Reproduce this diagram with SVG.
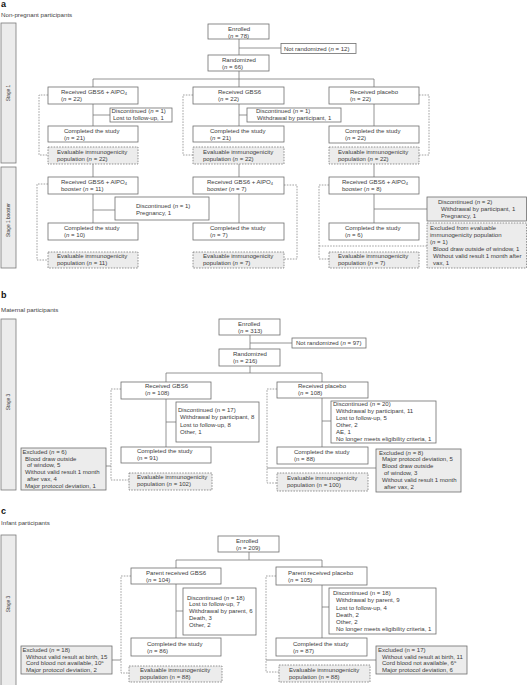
<svg xmlns="http://www.w3.org/2000/svg" width="527" height="685" viewBox="0 0 527 685">
<style>
.b{fill:#fff;stroke:#6e6e6e;stroke-width:0.8}
.g{fill:#ececec;stroke:#6e6e6e;stroke-width:0.8}
.d{fill:#ececec;stroke:#7a7a7a;stroke-width:0.8;stroke-dasharray:1.6,1.2}
.bar{fill:#ececec;stroke:#7a7a7a;stroke-width:0.8}
.c{fill:none;stroke:#7a7a7a;stroke-width:0.8}
.dc{fill:none;stroke:#8a8a8a;stroke-width:0.8;stroke-dasharray:1.6,1.2}
text{font-family:"Liberation Sans",Arial,sans-serif;font-size:6.05px;fill:#3c3c3c}
.h{font-weight:bold;font-size:9px;fill:#111}
.t{font-size:6.2px;fill:#444}
.s{font-size:4.8px}
.i{font-style:italic}
.sub{font-size:4px}
.m{text-anchor:middle}
</style>
<rect width="527" height="685" fill="#fff"/>

<!-- ============ Section a ============ -->
<text class="h" x="1" y="7">a</text>
<text class="t" x="1" y="17">Non-pregnant participants</text>
<g id="bar-a1"><rect class="bar" x="1" y="23" width="15" height="140"/><text class="m s" transform="translate(10.2,93) rotate(-90)">Stage 1</text></g>
<g id="bar-a2"><rect class="bar" x="1" y="167" width="15" height="101"/><text class="m s" transform="translate(10.2,220) rotate(-90)">Stage 1 booster</text></g>

<g id="connectors-a">
<path class="c" d="M239,39V55M239,48H281M239,71V79M93,79H374M93,79V87M239,79V87M374,79V87"/>
<path class="c" d="M93,104V126M93,115H110M239,104V126M239,115H247M374,104V126"/>
<path class="c" d="M93,164V177M239,164V177M374,164V177"/>
<path class="c" d="M93,194V223M93,210H115M239,194V223M374,194V223M374,209H427"/>
<path class="dc" d="M48,95H39V155H48M193,95H183V155H193M419,95H429V155H419"/>
<path class="dc" d="M48,184H37V260H48M284,185H297V259H284M329,185H319V259H329M319,246H427"/>
</g>

<g id="a-enrolled"><rect class="b" x="208" y="24" width="61" height="15"/><text x="228" y="30.5">Enrolled</text><text x="228" y="37.5">(<tspan class="i">n</tspan> = 78)</text></g>
<g id="a-notrand"><rect class="b" x="281" y="43.5" width="75" height="10"/><text x="284" y="50.7">Not randomized (<tspan class="i">n</tspan> = 12)</text></g>
<g id="a-rand"><rect class="b" x="208" y="55" width="61" height="16"/><text x="222" y="61.5">Randomized</text><text x="222" y="68.5">(<tspan class="i">n</tspan> = 66)</text></g>

<g id="a-rec1"><rect class="b" x="48" y="87" width="90" height="17"/><text x="61" y="93.5">Received GBS6 + AlPO<tspan class="sub" dy="1">4</tspan></text><text x="61" y="100.5">(<tspan class="i">n</tspan> = 22)</text></g>
<g id="a-disc1"><rect class="b" x="110" y="108" width="62" height="14"/><text x="111.5" y="112.8">Discontinued (<tspan class="i">n</tspan> = 1)</text><text x="113" y="119.6">Lost to follow-up, 1</text></g>
<g id="a-comp1"><rect class="b" x="48" y="126" width="90" height="16"/><text x="64" y="132.5">Completed the study</text><text x="64" y="139.5">(<tspan class="i">n</tspan> = 21)</text></g>
<g id="a-eval1"><rect class="d" x="48" y="147" width="90" height="17"/><text x="57" y="153.8">Evaluable immunogenicity</text><text x="57" y="160.8">population (<tspan class="i">n</tspan> = 22)</text></g>

<g id="a-rec2"><rect class="b" x="193" y="87" width="91" height="17"/><text x="218" y="93.5">Received GBS6</text><text x="218" y="100.5">(<tspan class="i">n</tspan> = 22)</text></g>
<g id="a-disc2"><rect class="b" x="247" y="108" width="94" height="14"/><text x="256" y="112.8">Discontinued (<tspan class="i">n</tspan> = 1)</text><text x="257" y="119.6">Withdrawal by participant, 1</text></g>
<g id="a-comp2"><rect class="b" x="193" y="126" width="91" height="16"/><text x="210" y="132.5">Completed the study</text><text x="210" y="139.5">(<tspan class="i">n</tspan> = 21)</text></g>
<g id="a-eval2"><rect class="d" x="193" y="147" width="91" height="17"/><text x="203" y="153.8">Evaluable immunogenicity</text><text x="203" y="160.8">population (<tspan class="i">n</tspan> = 22)</text></g>

<g id="a-rec3"><rect class="b" x="329" y="87" width="90" height="17"/><text x="350" y="93.5">Received placebo</text><text x="350" y="100.5">(n = 22)</text></g>
<g id="a-comp3"><rect class="b" x="329" y="126" width="90" height="17"/><text x="345" y="132.5">Completed the study</text><text x="345" y="139.5">(<tspan class="i">n</tspan> = 22)</text></g>
<g id="a-eval3"><rect class="d" x="329" y="147" width="90" height="17"/><text x="338" y="153.8">Evaluable immunogenicity</text><text x="338" y="160.8">population (<tspan class="i">n</tspan> = 22)</text></g>

<g id="a-boost1"><rect class="b" x="48" y="177" width="90" height="17"/><text x="61" y="183.5">Received GBS6 + AlPO<tspan class="sub" dy="1">4</tspan></text><text x="61" y="190.5">booster (<tspan class="i">n</tspan> = 11)</text></g>
<g id="a-bdisc1"><rect class="b" x="115" y="197" width="94" height="23"/><text x="136" y="207.5">Discontinued (<tspan class="i">n</tspan> = 1)</text><text x="136" y="214.5">Pregnancy, 1</text></g>
<g id="a-bcomp1"><rect class="b" x="48" y="223" width="90" height="17"/><text x="64" y="229.5">Completed the study</text><text x="64" y="236.5">(<tspan class="i">n</tspan> = 10)</text></g>
<g id="a-beval1"><rect class="d" x="48" y="252" width="90" height="16"/><text x="57" y="258.3">Evaluable immunogenicity</text><text x="57" y="265.3">population (<tspan class="i">n</tspan> = 11)</text></g>

<g id="a-boost2"><rect class="b" x="193" y="177" width="91" height="17"/><text x="207" y="183.5">Received GBS6 + AlPO<tspan class="sub" dy="1">4</tspan></text><text x="207" y="190.5">booster (<tspan class="i">n</tspan> = 7)</text></g>
<g id="a-bcomp2"><rect class="b" x="193" y="223" width="91" height="17"/><text x="210" y="229.5">Completed the study</text><text x="210" y="236.5">(<tspan class="i">n</tspan> = 7)</text></g>
<g id="a-beval2"><rect class="d" x="193" y="252" width="91" height="16"/><text x="203" y="258.3">Evaluable immunogenicity</text><text x="203" y="265.3">population (<tspan class="i">n</tspan> = 7)</text></g>

<g id="a-boost3"><rect class="b" x="329" y="177" width="90" height="17"/><text x="342" y="183.5">Received GBS6 + AlPO<tspan class="sub" dy="1">4</tspan></text><text x="342" y="190.5">booster (<tspan class="i">n</tspan> = 8)</text></g>
<g id="a-bdisc3"><rect class="g" x="427" y="197" width="99.5" height="24"/><text x="438" y="204">Discontinued (<tspan class="i">n</tspan> = 2)</text><text x="441" y="211">Withdrawal by participant, 1</text><text x="441" y="218">Pregnancy, 1</text></g>
<g id="a-bcomp3"><rect class="b" x="329" y="223" width="90" height="17"/><text x="345" y="229.5">Completed the study</text><text x="345" y="236.5">(<tspan class="i">n</tspan> = 6)</text></g>
<g id="a-bexcl3"><rect class="d" x="427" y="223" width="99.5" height="45"/><text x="430" y="230">Excluded from evaluable</text><text x="430" y="237">immunogenicity population</text><text x="430" y="243.8">(<tspan class="i">n</tspan> = 1)</text><text x="433" y="251">Blood draw outside of window, 1</text><text x="433" y="258">Without valid result 1 month after</text><text x="433" y="265">vax, 1</text></g>
<g id="a-beval3"><rect class="d" x="329" y="252" width="90" height="16"/><text x="338" y="258.3">Evaluable immunogenicity</text><text x="338" y="265.3">population (<tspan class="i">n</tspan> = 7)</text></g>

<!-- ============ Section b ============ -->
<text class="h" x="1" y="298">b</text>
<text class="t" x="1" y="312">Maternal participants</text>
<g id="bar-b"><rect class="bar" x="1" y="319" width="15" height="171"/><text class="m s" transform="translate(10.2,402) rotate(-90)">Stage 3</text></g>

<g id="connectors-b">
<path class="c" d="M250,335V349M250,343H292M250,366V373M166,373H322M166,373V382M322,373V382"/>
<path class="c" d="M166,399V447M166,422H176M322,398V447M322,421H331"/>
<path class="c" d="M106,466H111M267,468H376"/>
<path class="dc" d="M121,389H111V480H129M277,389H267V483H277"/>
</g>

<g id="b-enrolled"><rect class="b" x="219" y="319" width="61" height="16"/><text x="238" y="326">Enrolled</text><text x="238" y="333">(<tspan class="i">n</tspan> = 313)</text></g>
<g id="b-notrand"><rect class="b" x="292" y="338" width="74" height="10"/><text x="296" y="345.2">Not randomized (<tspan class="i">n</tspan> = 97)</text></g>
<g id="b-rand"><rect class="b" x="219" y="349" width="61" height="17"/><text x="233" y="356">Randomized</text><text x="233" y="363">(n = 216)</text></g>

<g id="b-rec1"><rect class="b" x="121" y="382" width="90" height="17"/><text x="145" y="388">Received GBS6</text><text x="145" y="395">(<tspan class="i">n</tspan> = 108)</text></g>
<g id="b-disc1"><rect class="b" x="176" y="402" width="83" height="40"/><text x="178" y="412">Discontinued (n = 17)</text><text x="180" y="419.3">Withdrawal by participant, 8</text><text x="180" y="426.6">Lost to follow-up, 8</text><text x="180" y="433.9">Other, 1</text></g>
<g id="b-comp1"><rect class="b" x="121" y="447" width="90" height="16"/><text x="137" y="453">Completed the study</text><text x="137" y="460">(n = 91)</text></g>
<g id="b-eval1"><rect class="d" x="129" y="473" width="83" height="17"/><text x="137" y="479">Evaluable immunogenicity</text><text x="137" y="486">population (<tspan class="i">n</tspan> = 102)</text></g>
<g id="b-excl1"><rect class="g" x="21" y="448" width="85" height="42"/><text x="22.5" y="454">Excluded (<tspan class="i">n</tspan> = 6)</text><text x="25" y="460.7">Blood draw outside</text><text x="27" y="467.4">of window, 5</text><text x="25" y="474.1">Without valid result 1 month</text><text x="27" y="480.8">after vax, 4</text><text x="25" y="487.5">Major protocol deviation, 1</text></g>

<g id="b-rec2"><rect class="b" x="277" y="382" width="91" height="16"/><text x="298" y="388">Received placebo</text><text x="298" y="395">(<tspan class="i">n</tspan> = 108)</text></g>
<g id="b-disc2"><rect class="b" x="331" y="401" width="105" height="42"/><text x="333" y="406.3">Discontinued (<tspan class="i">n</tspan> = 20)</text><text x="336" y="413.2">Withdrawal by participant, 11</text><text x="336" y="420.1">Lost to follow-up, 5</text><text x="336" y="427">Other, 2</text><text x="336" y="433.9">AE, 1</text><text x="336" y="440.8">No longer meets eligibility criteria, 1</text></g>
<g id="b-comp2"><rect class="b" x="277" y="447" width="91" height="17"/><text x="294" y="453.5">Completed the study</text><text x="294" y="460.5">(n = 88)</text></g>
<g id="b-excl2"><rect class="g" x="376" y="449" width="85" height="43"/><text x="379" y="454.5">Excluded (<tspan class="i">n</tspan> = 8)</text><text x="382" y="461.3">Major protocol deviation, 5</text><text x="382" y="468">Blood draw outside</text><text x="384" y="475">of window, 3</text><text x="382" y="481.8">Without valid result 1 month</text><text x="384" y="488.7">after vax, 2</text></g>
<g id="b-eval2"><rect class="d" x="277" y="473" width="91" height="18"/><text x="287" y="479.5">Evaluable immunogenicity</text><text x="287" y="486.5">population (n = 100)</text></g>

<!-- ============ Section c ============ -->
<text class="h" x="1" y="514">c</text>
<text class="t" x="1" y="525">Infant participants</text>
<g id="bar-c"><rect class="bar" x="1" y="535" width="15" height="152"/><text class="m s" transform="translate(10.2,604) rotate(-90)">Stage 3</text></g>

<g id="connectors-c">
<path class="c" d="M249,552V560M176,560H322M176,560V568M322,560V567"/>
<path class="c" d="M176,584V638M176,611H183M322,585V638M322,607H329"/>
<path class="c" d="M112,660H121M266,660H376"/>
<path class="dc" d="M131,576H121V673H129M276,576H266V672H279"/>
</g>

<g id="c-enrolled"><rect class="b" x="218" y="536" width="61" height="16"/><text x="236" y="543">Enrolled</text><text x="236" y="549.8">(<tspan class="i">n</tspan> = 209)</text></g>

<g id="c-rec1"><rect class="b" x="131" y="568" width="90" height="16"/><text x="146" y="575.3">Parent received GBS6</text><text x="146" y="582">(<tspan class="i">n</tspan> = 104)</text></g>
<g id="c-disc1"><rect class="b" x="183" y="588" width="73" height="47"/><text x="187" y="599.7">Discontinued (<tspan class="i">n</tspan> = 18)</text><text x="189" y="606.4">Lost to follow-up, 7</text><text x="189" y="613.1">Withdrawal by parent, 6</text><text x="189" y="619.8">Death, 3</text><text x="189" y="626.5">Other, 2</text></g>
<g id="c-comp1"><rect class="b" x="131" y="638" width="90" height="18"/><text x="147" y="646">Completed the study</text><text x="147" y="653">(<tspan class="i">n</tspan> = 86)</text></g>
<g id="c-eval1"><rect class="d" x="129" y="666" width="93" height="16"/><text x="140" y="672.3">Evaluable immunogenicity</text><text x="140" y="679.2">population (n = 88)</text></g>
<g id="c-excl1"><rect class="g" x="21" y="646" width="91" height="28"/><text x="22.5" y="652">Excluded (<tspan class="i">n</tspan> = 18)</text><text x="26" y="658.7">Without valid result at birth, 15</text><text x="26" y="665.4">Cord blood not available, 10<tspan class="sub" dy="-2">a</tspan></text><text x="26" y="672">Major protocol deviation, 2</text></g>

<g id="c-rec2"><rect class="b" x="276" y="567" width="91" height="18"/><text x="288" y="575">Parent received placebo</text><text x="288" y="582">(<tspan class="i">n</tspan> = 105)</text></g>
<g id="c-disc2"><rect class="b" x="329" y="588" width="107" height="46"/><text x="333" y="595.3">Discontinued (n = 18)</text><text x="336" y="602.4">Withdrawal by parent, 9</text><text x="336" y="609.5">Lost to follow-up, 4</text><text x="336" y="616.6">Death, 2</text><text x="336" y="623.7">Other, 2</text><text x="336" y="630.8">No longer meets eligibility criteria, 1</text></g>
<g id="c-comp2"><rect class="b" x="276" y="638" width="91" height="18"/><text x="293" y="646">Completed the study</text><text x="293" y="653">(<tspan class="i">n</tspan> = 87)</text></g>
<g id="c-excl2"><rect class="g" x="376" y="646" width="91" height="28"/><text x="378" y="652">Excluded (n = 17)</text><text x="382" y="658.7">Without valid result at birth, 11</text><text x="382" y="665.4">Cord blood not available, 6<tspan class="sub" dy="-2">a</tspan></text><text x="382" y="672">Major protocol deviation, 6</text></g>
<g id="c-eval2"><rect class="d" x="279" y="665" width="91" height="17"/><text x="289" y="679">population (n = 88)</text><text x="289" y="672">Evaluable immunogenicity</text></g>
</svg>
